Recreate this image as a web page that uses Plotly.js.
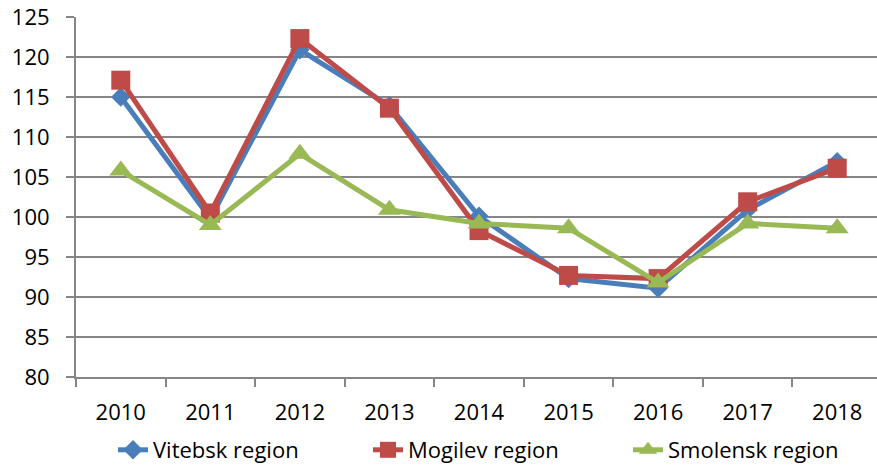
<!DOCTYPE html>
<html>
<head>
<meta charset="utf-8">
<script src="https://cdn.plot.ly/plotly-3.0.1.min.js"></script>
<style>
html,body{margin:0;padding:0;overflow:hidden;background:#fff;}
#chart{width:882px;height:467px;}
</style>
</head>
<body>
<div id="chart"></div>
<script>
const years = ['2010','2011','2012','2013','2014','2015','2016','2017','2018'];
const vitebsk = [115.0, 99.8, 120.9, 113.9, 100.1, 92.3, 91.1, 100.9, 106.9];
const mogilev = [117.1, 100.5, 122.3, 113.6, 98.3, 92.7, 92.3, 101.9, 106.1];
const smolensk = [105.8, 99.0, 107.9, 100.9, 99.2, 98.6, 91.8, 99.2, 98.6];
const seriesNames = ['Vitebsk region', 'Mogilev region', 'Smolensk region'];

const traces = [
  {x: years, y: vitebsk, name: seriesNames[0], type: 'scatter', mode: 'lines+markers', legend: 'legend',
   line: {color: '#4a7ebb', width: 5}, marker: {symbol: 'diamond', size: 15, color: '#4a7ebb'}},
  {x: years, y: mogilev, name: seriesNames[1], type: 'scatter', mode: 'lines+markers', legend: 'legend2',
   line: {color: '#be4b48', width: 5}, marker: {symbol: 'square', size: 19, color: '#be4b48'}},
  {x: years, y: smolensk, name: seriesNames[2], type: 'scatter', mode: 'lines+markers', legend: 'legend3',
   line: {color: '#98b954', width: 5}, marker: {symbol: 'triangle-up', size: 20, color: '#98b954'}}
];

function leg(px) {
  return {orientation: 'h', x: (px - 76) / 806, xanchor: 'left',
          yref: 'container', y: (467 - 450) / 467, yanchor: 'middle',
          font: {size: 22}, bgcolor: 'rgba(0,0,0,0)'};
}

const layout = {
  width: 882, height: 467,
  margin: {l: 76, r: 0, t: 17, b: 90},
  paper_bgcolor: '#fff', plot_bgcolor: '#fff',
  font: {family: '"Open Sans", sans-serif', size: 22, color: '#000'},
  showlegend: true,
  legend: leg(113),
  legend2: leg(368),
  legend3: leg(628),
  xaxis: {type: 'category', range: [-0.5, 8.5], showgrid: false, showline: true,
          linecolor: '#868686', linewidth: 2, ticks: 'outside', tickson: 'boundaries',
          ticklen: 8, tickwidth: 2, tickcolor: '#868686', ticklabelstandoff: 15,
          fixedrange: true},
  yaxis: {range: [80, 125], dtick: 5, tick0: 80, showgrid: true, gridcolor: '#868686', gridwidth: 2,
          showline: true, linecolor: '#868686', linewidth: 2, ticks: 'outside', ticklen: 8,
          tickwidth: 2, tickcolor: '#868686', ticklabelstandoff: 12, zeroline: false,
          fixedrange: true}
};

Plotly.newPlot('chart', traces, layout, {displayModeBar: false, staticPlot: true});
</script>
</body>
</html>
